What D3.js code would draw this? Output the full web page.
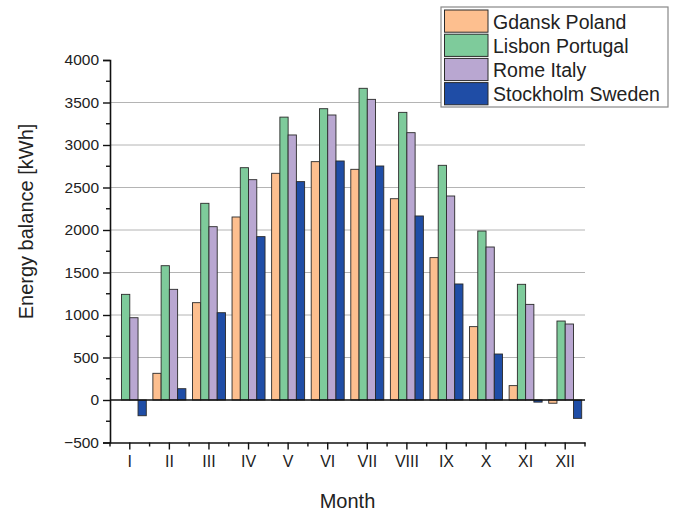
<!DOCTYPE html>
<html>
<head>
<meta charset="utf-8">
<script src="https://cdn.jsdelivr.net/npm/d3@7"></script>
<style>
  body { margin: 0; background: #fff; }
  svg { display: block; }
  text { font-family: "Liberation Sans", Arial, sans-serif; fill: #222; }
</style>
</head>
<body>
<svg id="chart" width="675" height="512"></svg>
<script>
const months = ["I","II","III","IV","V","VI","VII","VIII","IX","X","XI","XII"];
const seriesNames = ["Gdansk Poland","Lisbon Portugal","Rome Italy","Stockholm Sweden"];
const gdansk    = [0, 314, 1145, 2153, 2667, 2804, 2714, 2368, 1675, 863, 169, -38];
const lisbon    = [1243, 1580, 2314, 2733, 3328, 3427, 3667, 3384, 2761, 1988, 1361, 929];
const rome      = [968, 1302, 2039, 2592, 3118, 3353, 3537, 3145, 2400, 1800, 1125, 894];
const stockholm = [-185, 133, 1027, 1922, 2569, 2812, 2753, 2165, 1365, 541, -25, -216];
const yTicks = [-500, 0, 500, 1000, 1500, 2000, 2500, 3000, 3500, 4000];
const colors = ["#FDBF8F", "#7ECB9B", "#B9A7D1", "#1F4DA6"];

const seriesValues = [gdansk, lisbon, rome, stockholm];
const svg = d3.select("#chart");
const mLeft = 110, mRight = 585, mTop = 60, mBottom = 442.5;

const x0 = d3.scaleBand().domain(months).range([mLeft, mRight]).padding(0);
const x1 = d3.scaleBand().domain(seriesNames).range([0, x0.bandwidth()]).paddingInner(0).paddingOuter(0.4);
const y = d3.scaleLinear().domain([-500, 4000]).range([mBottom, mTop]);

// gridlines
svg.append("g").selectAll("line")
  .data(yTicks.filter(v => v > 0 && v < 4000))
  .join("line")
  .attr("x1", mLeft).attr("x2", mRight)
  .attr("y1", d => y(d)).attr("y2", d => y(d))
  .attr("stroke", "#b4b4b4").attr("stroke-width", 1);

// bars
const groups = svg.append("g").selectAll("g")
  .data(months)
  .join("g")
  .attr("transform", d => `translate(${x0(d)},0)`);

groups.selectAll("rect")
  .data((m, i) => seriesNames.map((s, k) => ({ s, k, v: seriesValues[k][i] })).filter(d => d.v !== 0))
  .join("rect")
  .attr("x", d => x1(d.s))
  .attr("width", x1.bandwidth())
  .attr("y", d => y(Math.max(0, d.v)))
  .attr("height", d => Math.abs(y(d.v) - y(0)))
  .attr("fill", d => colors[d.k])
  .attr("stroke", "#2a2a2a")
  .attr("stroke-width", 0.9);

// zero line
svg.append("line")
  .attr("x1", mLeft).attr("x2", mRight)
  .attr("y1", y(0)).attr("y2", y(0))
  .attr("stroke", "#111").attr("stroke-width", 1.3);

// y axis
const yAxis = d3.axisLeft(y).tickValues(yTicks).tickSize(7).tickPadding(4).tickFormat(d3.format("d"));
const gy = svg.append("g").attr("transform", `translate(${mLeft},0)`).call(yAxis);
gy.select(".domain").attr("stroke", "#111").attr("stroke-width", 1.6);
gy.selectAll(".tick line").attr("stroke", "#111").attr("stroke-width", 1.4);
gy.selectAll(".tick text").style("font-size", "15.5px").style("font-family", "Liberation Sans, Arial, sans-serif").attr("fill", "#222");
// y minor ticks
const yMinor = d3.range(-250, 4000, 500);
gy.append("g").selectAll("line").data(yMinor).join("line")
  .attr("x1", -4).attr("x2", 0)
  .attr("y1", d => y(d)).attr("y2", d => y(d))
  .attr("stroke", "#111").attr("stroke-width", 1.4);

// x axis
const xAxis = d3.axisBottom(x0).tickSize(7).tickPadding(6).tickSizeOuter(0);
const gx = svg.append("g").attr("transform", `translate(0,${mBottom})`).call(xAxis);
gx.select(".domain").attr("stroke", "#111").attr("stroke-width", 1.6);
gx.selectAll(".tick line").attr("stroke", "#111").attr("stroke-width", 1.4);
gx.selectAll(".tick text").style("font-size", "16px").style("font-family", "Liberation Sans, Arial, sans-serif").attr("fill", "#222");
// x minor ticks at band boundaries
const xMinor = months.map(m => x0(m)).concat([mRight]);
gx.append("g").selectAll("line").data(xMinor).join("line")
  .attr("x1", d => d).attr("x2", d => d)
  .attr("y1", 0).attr("y2", 4)
  .attr("stroke", "#111").attr("stroke-width", 1.4);

// axis titles
svg.append("text")
  .attr("transform", `translate(33,221.5) rotate(-90)`)
  .attr("text-anchor", "middle")
  .style("font-size", "20px")
  .text("Energy balance [kWh]");
svg.append("text")
  .attr("x", (mLeft + mRight) / 2)
  .attr("y", 508)
  .attr("text-anchor", "middle")
  .style("font-size", "20px")
  .text("Month");

// legend
const lg = svg.append("g");
lg.append("rect")
  .attr("x", 441).attr("y", 7).attr("width", 227).attr("height", 100)
  .attr("fill", "#fff").attr("stroke", "#888").attr("stroke-width", 1.2);
const rowH = 24.2;
seriesNames.forEach((s, k) => {
  lg.append("rect")
    .attr("x", 444.5).attr("y", 10 + k * rowH)
    .attr("width", 43.5).attr("height", rowH - 2)
    .attr("fill", colors[k]).attr("stroke", "#2a2a2a").attr("stroke-width", 1);
  lg.append("text")
    .attr("x", 493).attr("y", 10 + k * rowH + rowH / 2 + 6.5)
    .style("font-size", "19.5px")
    .text(s);
});
</script>
</body>
</html>
